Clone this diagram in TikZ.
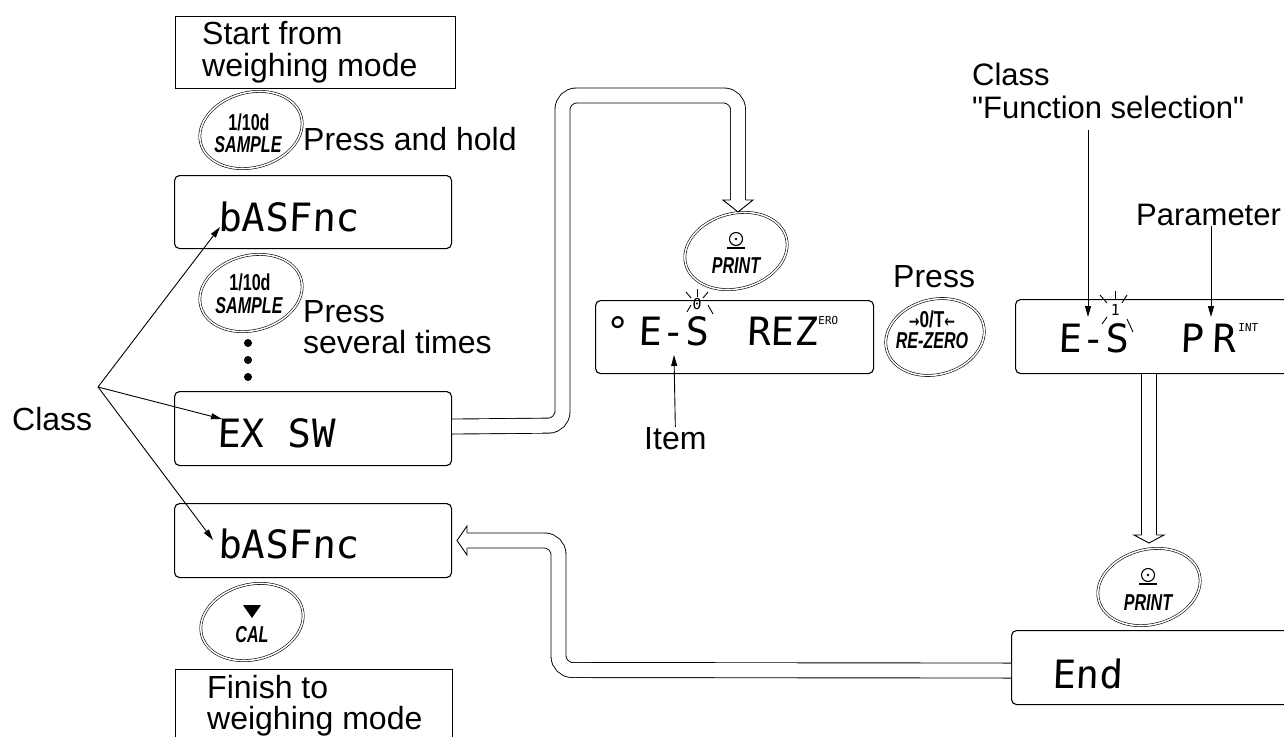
\documentclass[tikz,border=0pt]{standalone}
\usepackage{fontspec}
\setmainfont[Ligatures=TeXOff]{Liberation Sans}
\newfontfamily\segfont[FakeSlant=0.04]{DejaVu Sans Mono}
\newfontfamily\symfont{DejaVu Sans}
\usepackage{graphicx}
\usetikzlibrary{arrows.meta}
\begin{document}
\begin{tikzpicture}[x=1pt,y=-1pt,
  lbl/.style={inner sep=0pt, anchor=base west, font=\fontsize{32}{33}\selectfont},
  lbls/.style={inner sep=0pt, anchor=base west, font=\fontsize{31}{32}\selectfont},
  seg/.style={inner sep=0pt, anchor=base west, font=\segfont\fontsize{39}{40}\selectfont},
  segsmall/.style={inner sep=0pt, anchor=north west, font=\segfont\fontsize{11}{12}\selectfont},
  blink/.style={inner sep=0pt, font=\segfont\fontsize{15}{16}\selectfont},
  disp/.style={draw, line width=1.1pt, rounded corners=5pt, inner sep=0pt, anchor=north west},
  plainbox/.style={draw, line width=1.1pt, inner sep=0pt, anchor=north west},
  btn/.style={draw, double, line width=0.6pt, double distance=1.5pt},
  btnpt/.style={inner sep=0pt, minimum size=0pt},
  btntxt/.style={inner sep=0pt, anchor=base, font=\fontsize{23}{24}\selectfont\bfseries},
  btntxti/.style={inner sep=0pt, anchor=base, font=\fontsize{23}{24}\selectfont\bfseries\itshape},
  hollow/.style={draw, double=white, line width=0.9pt, double distance=14.1pt, rounded corners=14pt},
  headfill/.style={fill=white, draw, line width=0.9pt, line join=miter},
  ptr/.style={draw, line width=0.9pt, -{Triangle[length=11pt,width=6pt]}},
  ray/.style={draw, line width=0.9pt},
]
\useasboundingbox (0,0) rectangle (1284,736);
\clip (0,0) rectangle (1284,736);
\fill[white] (0,0) rectangle (1284,736);

% ---------- left column ----------
\node[plainbox, minimum width=280, minimum height=72] (start) at (175,16) {};
\node[lbl] (startA) at (202,44) {Start from};
\node[lbl] (startB) at (202,76) {weighing mode};

\node[btnpt] (b1) at (251,130) {};
\draw[btn, rotate around={15:(b1)}] (b1) ellipse [x radius=52, y radius=37.5];
\node[btntxt] (b1a) at (249,130) {\scalebox{0.7}[1]{1/10d}};
\node[btntxti] (b1b) at (248,152) {\scalebox{0.7}[1]{SAMPLE}};
\node[lbl] (hold) at (303,150) {Press and hold};

\node[disp, minimum width=277, minimum height=73] (bas1) at (174,175) {};
\node[seg] (bas1t) at (218,231) {bASFnc};

\node[btnpt] (b2) at (251,293) {};
\draw[btn, rotate around={15:(b2)}] (b2) ellipse [x radius=52, y radius=37.5];
\node[btntxt] (b2a) at (250,290) {\scalebox{0.7}[1]{1/10d}};
\node[btntxti] (b2b) at (249,313) {\scalebox{0.7}[1]{SAMPLE}};
\node[lbl] (sev1) at (303,322) {Press};
\node[lbl] (sev2) at (303,353) {several times};

\fill (248,343) circle [radius=4];
\fill (248,360) circle [radius=4];
\fill (248,377) circle [radius=4];

\node[disp, minimum width=277, minimum height=74] (exsw) at (174,391) {};
\node[seg] (exswt) at (217,447) {EX SW};

\node[disp, minimum width=277, minimum height=74] (bas2) at (174,503) {};
\node[seg] (bas2t) at (218,558) {bASFnc};

\node[btnpt] (cal) at (252,622) {};
\draw[btn, rotate around={15:(cal)}] (cal) ellipse [x radius=52, y radius=37.5];
\fill (243,605) -- (261,605) -- (252,618) -- cycle;
\node[btntxti] (calt) at (252,642) {\scalebox{0.7}[1]{CAL}};

\node[plainbox, minimum width=277, minimum height=100] (finish) at (175,669) {};
\node[lbl] (finA) at (207,698) {Finish to};
\node[lbl] (finB) at (207,729) {weighing mode};

% Class pointers
\node[lbl] (cls) at (12,430) {Class};
\coordinate (hub) at (98,387);
\coordinate (t1) at (220,227);
\coordinate (t2) at (222,419);
\coordinate (t3) at (213,540);
\draw[ptr] (hub) -- (t1);
\draw[ptr] (hub) -- (t2);
\draw[ptr] (hub) -- (t3);

% ---------- middle ----------
\node[btnpt] (print1) at (736,251) {};
\draw[btn, rotate around={15:(print1)}] (print1) ellipse [x radius=52, y radius=37.5];
\draw[line width=1.1pt] (736,239) circle [radius=6.5];
\fill (736,239) circle [radius=1.4];
\draw[line width=1.3pt] (727,248) -- (745,248);
\node[btntxti] (print1t) at (736,273) {\scalebox{0.7}[1]{PRINT}};

\node[disp, minimum width=278, minimum height=73] (mbox) at (595,300) {};
\node[seg] (mdeg) at (605,345) {°};
\node[seg] (mitem) at (638,345) {E-S};
\node[seg] (mpar) at (747,345) {REZ};
\node[segsmall] (mparx) at (818,316) {ERO};
\node[blink] (mblink) at (697,304.5) {0};
\draw[ray] (697,289) -- (697,297);
\draw[ray] (686,292) -- (691,298);
\draw[ray] (708,292) -- (703,298);
\draw[ray] (687,312) -- (691,305);
\draw[ray] (708,305) -- (713,314);

\node[lbl] (item) at (644,449) {Item};
\coordinate (itemtip) at (674,355);
\draw[ptr] (item.north) -- (itemtip);

\node[lbl] (press) at (893,287) {Press};
\node[btnpt] (rezero) at (935,337) {};
\draw[btn, rotate around={15:(rezero)}] (rezero) ellipse [x radius=50, y radius=37.5];
\node[btntxt] (rza) at (932,327) {\scalebox{0.75}[1]{{\symfont\bfseries\fontsize{17}{18}\selectfont →}0/T{\symfont\bfseries\fontsize{17}{18}\selectfont ←}}};
\node[btntxti] (rzb) at (932,348) {\scalebox{0.7}[1]{RE-ZERO}};

% ---------- right ----------
\node[lbls] (rcls1) at (972,85) {Class};
\node[lbls] (rcls2) at (972,118) {"Function selection"};
\node[lbls] (param) at (1136,225) {Parameter};

\node[disp, minimum width=290, minimum height=74] (rbox) at (1015,299) {};
\node[seg] (ritem) at (1058,352) {E-S};
\node[seg] (rpar) at (1180,352) {P\kern9pt R};
\node[segsmall] (rparx) at (1238,323) {INT};
\node[blink] (rblink) at (1115,310) {1};
\draw[ray] (1115,291) -- (1115,299);
\draw[ray] (1100,295) -- (1107,303);
\draw[ray] (1127,295) -- (1122,303);
\draw[ray] (1102,324) -- (1107,317);
\draw[ray] (1127,319) -- (1133,332);

\coordinate (fsA) at (1088,130);
\coordinate (fsB) at (1088,317);
\draw[ptr] (fsA) -- (fsB);
\coordinate (paA) at (1211,226);
\coordinate (paB) at (1211,317);
\draw[ptr] (paA) -- (paB);

\node[btnpt] (print2) at (1149,587) {};
\draw[btn, rotate around={15:(print2)}] (print2) ellipse [x radius=52, y radius=37.5];
\draw[line width=1.1pt] (1148,575) circle [radius=6.5];
\fill (1148,575) circle [radius=1.4];
\draw[line width=1.3pt] (1139,584) -- (1157,584);
\node[btntxti] (print2t) at (1148,610) {\scalebox{0.7}[1]{PRINT}};

\node[disp, minimum width=290, minimum height=74] (endbox) at (1011,630) {};
\node[seg] (endt) at (1052,688) {End};

% ---------- hollow arrows ----------
\draw[hollow] ([yshift=2pt]exsw.east) -- (562.5,425.5) -- (562.5,95.5) -- (738,95.5) -- (738,200);
\filldraw[headfill] (730.5,200) -- (723,200) -- (738,212) -- (753,200) -- (745.5,200);

\draw[hollow] (rbox.south -| print2) -- (1149,535);
\filldraw[headfill] (1141.5,535) -- (1134,535) -- (1149,543) -- (1164,535) -- (1156.5,535);

\draw[hollow] ([yshift=-3pt]endbox.west) -- (558.5,670) -- (558.5,540.5) -- (467,540.5);
\filldraw[headfill] (467,533) -- (467,526) -- (457,540.5) -- (467,555) -- (467,548);
\end{tikzpicture}
\end{document}
